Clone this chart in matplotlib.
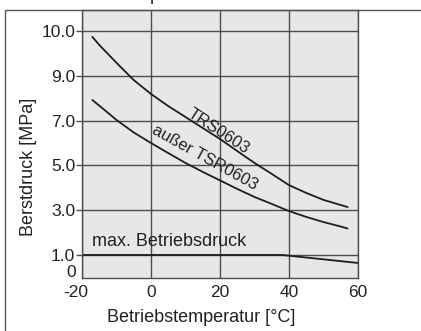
import numpy as np
import matplotlib
matplotlib.use("Agg")
import matplotlib.pyplot as plt
from matplotlib.patches import Rectangle
from matplotlib.transforms import ScaledTranslation

plt.rcParams['font.family'] = ['Liberation Sans', 'DejaVu Sans']

# Daten
temp = [-17, -15, -10, -5, 0, 5, 10, 15, 20, 25, 30, 35, 40, 45, 50, 55, 57]
trs0603 = [9.87, 9.69, 9.29, 8.81, 8.19, 7.65, 7.16, 6.67, 6.18, 5.64,
           5.11, 4.62, 4.12, 3.77, 3.46, 3.23, 3.14]
ausser_tsr0603 = [7.92, 7.67, 7.03, 6.47, 6.00, 5.55, 5.11, 4.71, 4.33, 3.95,
                  3.59, 3.28, 2.96, 2.70, 2.47, 2.27, 2.18]

temp_betrieb = [-20, 38, 60]
max_betriebsdruck = [1.0, 1.0, 0.5]

y_ticks = [1, 3, 5, 7, 9, 10]
y_ticklabels = ["1.0", "3.0", "5.0", "7.0", "9.0", "10.0"]
x_ticks = [-20, 0, 20, 40, 60]

# nichtlineare Druckachse: 0-1 gestaucht, 1-9 je 2 MPa pro Teilung, 9-10 eine Teilung
_mpa = np.array([-10.0, 0.0, 1.0, 9.0, 20.0])
_pos = np.array([-3.57, 0.0, 0.357, 4.357, 15.357])


def forward(v):
    return np.interp(v, _mpa, _pos)


def inverse(p):
    return np.interp(p, _pos, _mpa)


fig = plt.figure(figsize=(4.21, 3.31), dpi=100)
ax = fig.add_axes([82 / 421, 53 / 331, 276 / 421, 268 / 331])
ax.set_facecolor('#e6e7e9')

ax.set_yscale('function', functions=(forward, inverse))
ax.set_xlim(-20, 60)
ax.set_ylim(-0.44, 10.47)

ax.set_xticks(x_ticks)
ax.set_xticklabels([str(t) for t in x_ticks])
ax.set_yticks(y_ticks)
ax.set_yticklabels(y_ticklabels)
ax.set_yticks([0], minor=True)
ax.set_yticklabels(["0"], minor=True)

grid_col = '#4d4d4d'
ax.grid(True, which='major', color=grid_col, linewidth=1.0)
ax.tick_params(axis='x', length=0, pad=5, labelsize=12.5, colors='#222222')
ax.tick_params(axis='y', which='major', length=4, width=1.0, pad=1,
               labelsize=12.5, colors='#222222')
ax.tick_params(axis='y', which='minor', length=0, pad=4, labelsize=12.5,
               colors='#222222')
ax.tick_params(axis='y', which='major', color=grid_col)
for s in ax.spines.values():
    s.set_color(grid_col)
    s.set_linewidth(1.0)

# "-20" steht im Original etwas links vom Teilstrich
lab = ax.xaxis.get_major_ticks()[0].label1
lab.set_transform(lab.get_transform() + ScaledTranslation(-6 / 100, 0, fig.dpi_scale_trans))

line_kw = dict(color='#1e1e1e', linewidth=1.3, solid_capstyle='round',
               solid_joinstyle='round')
ax.plot(temp, trs0603, **line_kw)
ax.plot(temp, ausser_tsr0603, **line_kw)
ax.plot(temp_betrieb, max_betriebsdruck, **line_kw)

ax.text(19.6, 6.51, "TRS0603", rotation=-33, ha='center', va='center',
        fontsize=12, color='#222222', rotation_mode='anchor')
ax.text(15.7, 5.33, "außer TSR0603", rotation=-29, ha='center', va='center',
        fontsize=12, color='#222222', rotation_mode='anchor')
ax.text(-17, 1.58, "max. Betriebsdruck", ha='left', va='center',
        fontsize=13, color='#222222')

ax.set_xlabel("Betriebstemperatur [°C]", fontsize=13, color='#222222')
ax.xaxis.set_label_coords(0.431, -0.116)
ax.set_ylabel("Berstdruck [MPa]", fontsize=13, color='#222222')
ax.yaxis.set_label_coords(-0.163, 0.414)

# äußerer Rahmen (rechts und unten abgeschnitten)
frame = Rectangle((5 / 421, -0.2), 2.0, (321 / 331) + 0.2,
                  transform=fig.transFigure, fill=False,
                  edgecolor='#555555', linewidth=1.0, zorder=0)
fig.patches.append(frame)

# abgeschnittener Titel oben (im Original nur der untere Rand sichtbar)
fig.text(25 / 421, 1 - 0.5 / 331, "Berstdruck-Temperatur-Kurve", ha='left',
         va='baseline', fontsize=13, color='#222222')

fig.savefig("out.png", dpi=100)
